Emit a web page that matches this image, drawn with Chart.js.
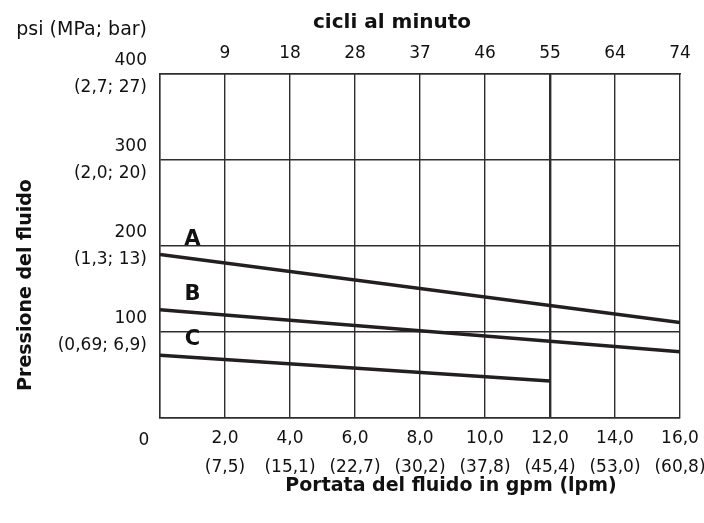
<!DOCTYPE html>
<html lang="it">
<head>
<meta charset="UTF-8">
<title>Pressione del fluido</title>
<script src="https://cdn.jsdelivr.net/npm/chart.js"></script>
<style>
  body { margin: 0; background: #fff; }
  #grafico { display: block; }
</style>
</head>
<body>
<canvas id="grafico" width="704" height="523"></canvas>
<script>
// dati
const portataGpm = [2, 4, 6, 8, 10, 12, 14, 16];
const portataLpm = ['7,5', '15,1', '22,7', '30,2', '37,8', '45,4', '53,0', '60,8'];
const cicliMinuto = ['9', '18', '28', '37', '46', '55', '64', '74'];
const pressionePsi = [100, 200, 300, 400];
const pressioneMetrica = ['0,69; 6,9', '1,3; 13', '2,0; 20', '2,7; 27'];

const nomiCurve = ['A', 'B', 'C'];
const curvaA_gpm = [0, 16];
const curvaA_psi = [190, 111];
const curvaB_gpm = [0, 16];
const curvaB_psi = [126, 77];
const curvaC_gpm = [0, 12];
const curvaC_psi = [73, 43];

const NERO = '#231f20';
const GRIGLIA = '#2e2e2e';

Chart.defaults.font.family = 'DejaVu Sans';
Chart.defaults.font.size = 17;
Chart.defaults.color = '#111';

function punti(gpm, psi) {
    return gpm.map((v, i) => ({ x: v, y: psi[i] }));
}

const serie = [
    punti(curvaA_gpm, curvaA_psi),
    punti(curvaB_gpm, curvaB_psi),
    punti(curvaC_gpm, curvaC_psi)
];

// niente spazio extra ai lati per le etichette: l'area del grafico resta fissa
function senzaPaddingLaterale(scale) {
    scale.paddingLeft = 0;
    scale.paddingRight = 0;
}

// testi fuori dagli assi: unità, titoli, lo "0" d'angolo e le lettere delle curve
const testiExtra = {
    id: 'testiExtra',
    afterDraw(chart) {
        const { ctx, scales: { x, y } } = chart;
        ctx.save();
        ctx.fillStyle = '#111';

        ctx.font = '19px "DejaVu Sans"';
        ctx.textBaseline = 'alphabetic';
        ctx.textAlign = 'right';
        ctx.fillText('psi (MPa; bar)', x.left - 13, 35);

        ctx.font = '17px "DejaVu Sans"';
        ctx.textAlign = 'center';
        ctx.fillText('0', x.getPixelForValue(0) - 16, 445);

        ctx.font = 'bold 20px "DejaVu Sans"';
        ctx.fillText('cicli al minuto', 392, 28);
        ctx.font = 'bold 19px "DejaVu Sans"';
        ctx.fillText('Portata del fluido in gpm (lpm)', 451, 491);

        ctx.save();
        ctx.translate(31, 285);
        ctx.rotate(-Math.PI / 2);
        ctx.fillText('Pressione del fluido', 0, 0);
        ctx.restore();

        // lettere poco sopra l'inizio di ogni curva
        ctx.font = 'bold 21px "DejaVu Sans"';
        ctx.textBaseline = 'middle';
        serie.forEach((dati, i) => {
            const px = x.getPixelForValue(1);
            const py = y.getPixelForValue(dati[0].y + 18);
            ctx.fillText(nomiCurve[i], px, py);
        });

        ctx.restore();
    }
};

const ctx = document.getElementById('grafico').getContext('2d');
const grafico = new Chart(ctx, {
    type: 'line',
    data: {
        datasets: serie.map((dati, i) => ({
            label: nomiCurve[i],
            data: dati,
            borderColor: NERO,
            borderWidth: 3.5,
            pointRadius: 0,
            tension: 0,
            fill: false
        }))
    },
    options: {
        responsive: false,
        animation: false,
        layout: { padding: { top: 0, left: 0, right: 24, bottom: 0 } },
        plugins: {
            legend: { display: false },
            tooltip: { enabled: false }
        },
        scales: {
            x: {
                type: 'linear',
                position: 'bottom',
                min: 0,
                max: 16,
                afterBuildTicks: (scale) => {
                    scale.ticks = [0, ...portataGpm].map(v => ({ value: v }));
                },
                afterFit: (scale) => {
                    scale.height = 105;
                    senzaPaddingLaterale(scale);
                },
                ticks: {
                    maxRotation: 0,
                    autoSkip: false,
                    padding: 6,
                    font: { size: 17, lineHeight: 1.7 },
                    callback: (value) => {
                        const i = portataGpm.indexOf(value);
                        if (i < 0) return '';
                        return [value.toFixed(1).replace('.', ','), '(' + portataLpm[i] + ')'];
                    }
                },
                grid: {
                    color: GRIGLIA,
                    lineWidth: (c) => (c.tick && c.tick.value === 12 ? 2.4 : 1.4),
                    drawTicks: false
                },
                border: { color: GRIGLIA, width: 1.4 }
            },
            x2: {
                type: 'linear',
                position: 'top',
                min: 0,
                max: 16,
                afterBuildTicks: (scale) => {
                    scale.ticks = [0, ...portataGpm].map(v => ({ value: v }));
                },
                afterFit: (scale) => {
                    scale.height = 74;
                    senzaPaddingLaterale(scale);
                },
                ticks: {
                    maxRotation: 0,
                    autoSkip: false,
                    padding: 10,
                    callback: (value) => {
                        const i = portataGpm.indexOf(value);
                        return i < 0 ? '' : cicliMinuto[i];
                    }
                },
                grid: { display: false, drawTicks: false },
                border: { color: GRIGLIA, width: 1.4 }
            },
            y: {
                type: 'linear',
                position: 'left',
                min: 0,
                max: 400,
                afterBuildTicks: (scale) => {
                    scale.ticks = [0, ...pressionePsi].map(v => ({ value: v }));
                },
                afterFit: (scale) => { scale.width = 160; },
                ticks: {
                    padding: 13,
                    font: { size: 17, lineHeight: 1.55 },
                    callback: (value) => {
                        const i = pressionePsi.indexOf(value);
                        if (i < 0) return '';
                        return [String(value), '(' + pressioneMetrica[i] + ')'];
                    }
                },
                grid: {
                    color: GRIGLIA,
                    lineWidth: 1.4,
                    drawTicks: false
                },
                border: { color: GRIGLIA, width: 1.4 }
            }
        }
    },
    plugins: [testiExtra]
});
</script>
</body>
</html>
